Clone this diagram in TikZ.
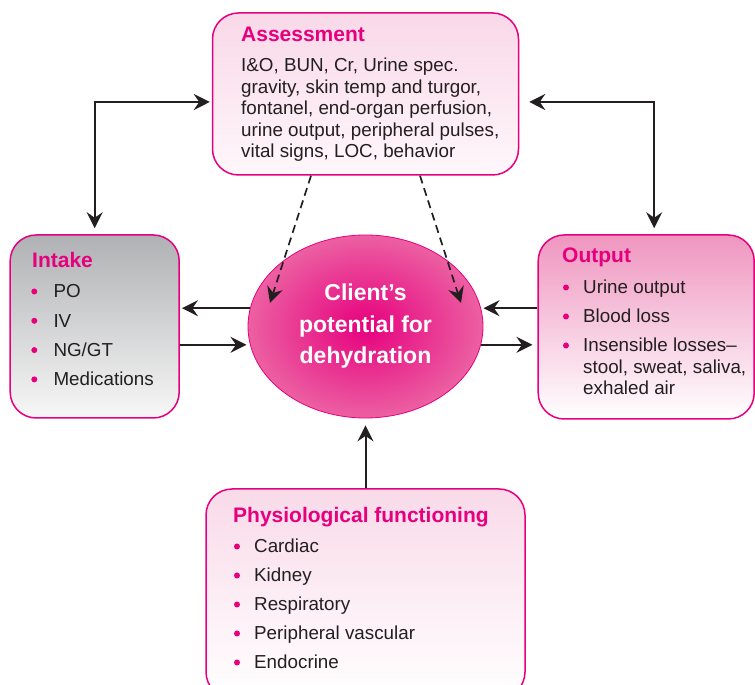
\documentclass[tikz,border=0pt]{standalone}
\usepackage{fontspec}
\setmainfont{Liberation Sans}
\usetikzlibrary{arrows.meta,shapes.geometric}
\definecolor{magent}{RGB}{230,0,126}
\definecolor{ink}{RGB}{35,31,32}
\definecolor{ellout}{RGB}{236,96,162}
\definecolor{assesstop}{RGB}{249,216,232}
\definecolor{graytop}{RGB}{176,177,180}
\definecolor{outtop}{RGB}{239,150,192}
\definecolor{phystop}{RGB}{249,218,233}
\newcommand{\bodyfont}{\fontsize{18.8}{21.4}\selectfont}
\newcommand{\headfont}{\fontsize{21}{24}\selectfont\bfseries}

\begin{document}
\begin{tikzpicture}[x=1pt,y=1pt]
  \tikzset{box/.style={draw=magent, line width=1.5pt, rounded corners=26pt, inner sep=0pt},
    head/.style={font=\headfont, text=magent, inner sep=0pt, anchor=base west},
    body/.style={font=\bodyfont, text=ink, inner sep=0pt, anchor=base west},
    tip/.style={Stealth[length=16pt,width=16pt,inset=5.5pt]},
    arr/.style={-{Stealth[length=16pt,width=16pt,inset=5.5pt]}, line width=2pt, draw=ink},
    biarr/.style={{Stealth[length=16pt,width=16pt,inset=5.5pt]}-{Stealth[length=16pt,width=16pt,inset=5.5pt]}, line width=2pt, draw=ink},
    dasharr/.style={arr, line width=1.7pt, dash pattern=on 8pt off 5pt}}
\clip (0,0) rectangle (755,685);

% boxes
\node[box, top color=assesstop, bottom color=white!97!magent, minimum width=306pt, minimum height=162pt] (assess) at (365.5,591) {};
\node[box, top color=graytop, bottom color=white!97!black, minimum width=169pt, minimum height=183pt] (intake) at (94.7,358.5) {};
\node[box, top color=outtop, bottom color=white, minimum width=216pt, minimum height=184pt] (output) at (646.2,358) {};
\node[box, top color=phystop, bottom color=white, minimum width=319pt, minimum height=209pt] (physio) at (365.5,91.5) {};
\node[ellipse, draw=magent, line width=0.8pt, shading=radial, inner color=magent, outer color=ellout,
  minimum width=235pt, minimum height=183pt, align=center, text=white,
  font=\fontsize{23}{31.5}\selectfont\bfseries] (client) at (365.5,358.5)
  {Client’s\\potential for\\dehydration};

% Assessment
\node[head] (assesshead) at (241,643) {Assessment};
\foreach \t [count=\i] in {{I\&O, BUN, Cr, Urine spec.},{gravity, skin temp and turgor,},
    {fontanel, end-organ perfusion,},{urine output, peripheral pulses,},{vital signs, LOC, behavior}}
  \node[body] (assess-\i) at (241,634.4-21.4*\i) {\t};

% Intake
\node[head] (intakehead) at (32,417) {Intake};
\foreach \t [count=\i] in {PO, IV, NG/GT, Medications}{
  \node[body] (intake-\i) at (53.3,416.3-29.3*\i) {\t};
  \fill[magent] ([shift={(-19,6.5)}]intake-\i.base west) circle (3pt);
}

% Output
\node[head] (outhead) at (562,422) {Output};
\foreach \t [count=\i] in {Urine output, Blood loss, Insensible losses--}{
  \node[body] (out-\i) at (583,420-29*\i) {\t};
  \fill[magent] ([shift={(-17,6.5)}]out-\i.base west) circle (3pt);
}
\node[body] (out-3b) at (583,311.5) {stool, sweat, saliva,};
\node[body] (out-3c) at (583,290) {exhaled air};

% Physiological functioning
\node[head] (physhead) at (233,162) {Physiological functioning};
\foreach \t [count=\i] in {Cardiac, Kidney, Respiratory, Peripheral vascular, Endocrine}{
  \node[body] (phys-\i) at (254,161-29*\i) {\t};
  \fill[magent] ([shift={(-17,6.5)}]phys-\i.base west) circle (3pt);
}

% connectors
\draw[biarr] ([shift={(-2,-8)}]assess.west) -| ([yshift=6pt]intake.north);
\draw[biarr] ([shift={(10,-8)}]assess.east) -| ([shift={(8,6)}]output.north);
\draw[dasharr] ([xshift=-54.5pt]assess.south) -- ([shift={(-95.5,23.5)}]client.center);
\draw[dasharr] ([xshift=54.5pt]assess.south) -- ([shift={(95.5,23.5)}]client.center);
\draw[arr, shorten >=2pt] (client.171) -- (client.171 -| intake.east);
\draw[arr, shorten >=3.5pt] (client.189 -| intake.east) -- (client.189);
\draw[arr, shorten >=2.5pt] (client.9 -| output.west) -- (client.9);
\draw[arr, shorten >=5pt] (client.351) -- (client.351 -| output.west);
\draw[arr, shorten >=7pt] (physio.north) -- (client.south);
\end{tikzpicture}
\end{document}
